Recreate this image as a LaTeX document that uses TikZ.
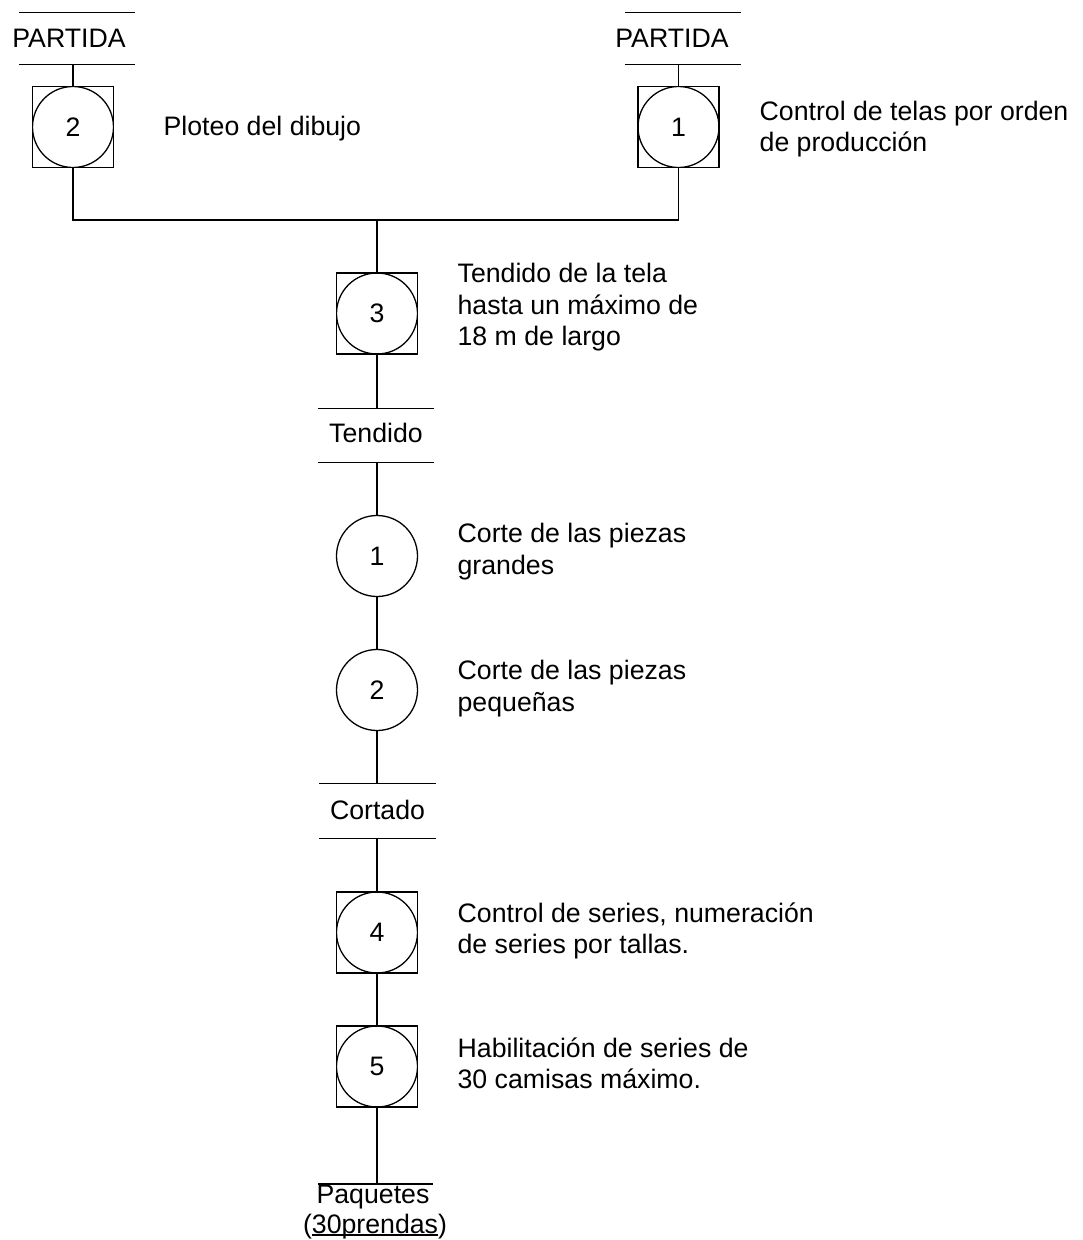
\documentclass[tikz,border=0pt]{standalone}
\usepackage{fontspec}
\setmainfont{Liberation Sans}
% underline that sits just under the baseline
\newcommand\lowline[1]{\leavevmode\setbox0\hbox{#1}\rlap{\rule[-2.5pt]{\wd0}{1.1pt}}\box0}
\begin{document}
\begin{tikzpicture}[x=1pt,y=-1pt,line width=1.3pt,
  every node/.style={font=\fontsize{26.7pt}{31.5pt}\selectfont,inner sep=0pt},
  opbox/.style={rectangle,draw,minimum size=81pt,
    path picture={\draw (path picture bounding box.center) circle (40.5pt);}},
  op/.style={circle,draw,minimum size=81pt},
  store/.style={minimum width=115pt,minimum height=53pt,
    append after command={(\tikzlastnode.north west) edge (\tikzlastnode.north east)
      (\tikzlastnode.south west) edge (\tikzlastnode.south east)}},
  lbl/.style={anchor=base},
  note/.style={anchor=base west,align=left}]
\useasboundingbox (0,0) rectangle (1082,1240);

% starting lots
\node[store,minimum height=51pt,label={[xshift=-8pt]center:PARTIDA}] (pa) at (77,38.5) {};
\node[store,minimum height=51pt,label={[xshift=-11pt]center:PARTIDA}] (pb) at (683,38.5) {};

% operations
\node[opbox] (b2) at (73,127) {2};
\node[opbox] (b1) at (678.5,127) {1};
\node[opbox] (b3) at (377,313.5) {3};
\node[store,label={[yshift=3pt]center:Tendido}] (tend) at (376,435.5) {};
\node[op] (c1) at (377,556) {1};
\node[op] (c2) at (377,690) {2};
\node[store,minimum height=54pt,label={[yshift=1.5pt]center:Cortado}] (cort) at (377.5,811) {};
\node[opbox] (b4) at (377,932.5) {4};
\node[opbox] (b5) at (377,1066.5) {5};

% final lot
\coordinate (paqtop) at (377,1184);
\draw (318,1184) -- (433,1184);
\node[lbl] (paq) at (373,1203) {Paquetes};
\node[lbl] (prend) at (375,1233) {(\lowline{30prendas})};

% descriptions (anchored on the baseline of the last line)
\node[note] (t2) at (163,135) {Ploteo del dibujo};
\node[note] (t1) at (759,151.5) {Control de telas por orden\\de producción};
\node[note] (t3) at (457,345.5) {Tendido de la tela\\hasta un máximo de\\18 m de largo};
\node[note] (tc1) at (457,574) {Corte de las piezas\\grandes};
\node[note] (tc2) at (457,711) {Corte de las piezas\\pequeñas};
\node[note] (t4) at (457,953.5) {Control de series, numeración\\de series por tallas.};
\node[note] (t5) at (457,1088.5) {Habilitación de series de\\30 camisas máximo.};

% connectors
\coordinate (jn) at (377,220);
\draw (pa.south -| b2) -- (b2.north);
\draw (pb.south -| b1) -- (b1.north);
\draw (b2.south) -- (b2.south |- jn) -- (b1.south |- jn) -- (b1.south);
\draw (jn) -- (b3.north);
\draw (b3.south) -- (tend.north -| b3);
\draw (tend.south -| c1) -- (c1.north);
\draw (c1) -- (c2);
\draw (c2.south) -- (cort.north -| c2);
\draw (cort.south -| b4) -- (b4.north);
\draw (b4) -- (b5);
\draw (b5.south) -- (paqtop);
\end{tikzpicture}
\end{document}
